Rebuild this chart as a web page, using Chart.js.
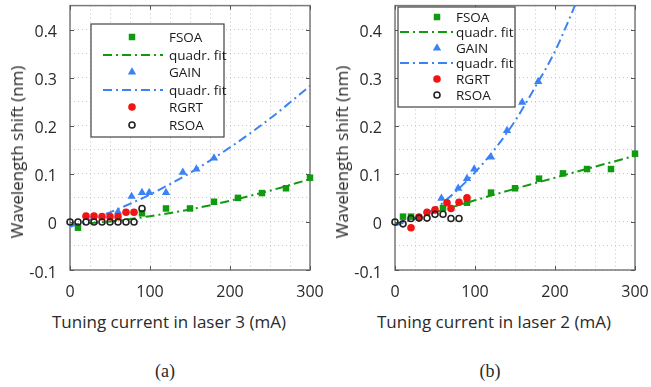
<!DOCTYPE html>
<html>
<head>
<meta charset="utf-8">
<script src="https://cdn.jsdelivr.net/npm/chart.js@4.4.1/dist/chart.umd.min.js"></script>
<style>
  body { margin: 0; background: #fff; width: 651px; height: 387px; position: relative; overflow: hidden; font-family: "Open Sans", sans-serif; color: #2a2a2a; }
  .box { position: absolute; top: 0; width: 325px; height: 300px; }
  .xt { position: absolute; top: 311px; font-size: 17px; line-height: 22px; white-space: nowrap; transform: translateX(-50%); }
  .yt { position: absolute; top: 152px; font-size: 17px; line-height: 22px; white-space: nowrap; transform: translate(-50%, -50%) rotate(-90deg); }
  .cap { position: absolute; top: 360px; font-family: "Liberation Serif", serif; font-size: 18px; line-height: 22px; transform: translateX(-50%); }
</style>
</head>
<body>
<div class="box" style="left:0"><canvas id="chartA" width="325" height="300"></canvas></div>
<div class="box" style="left:325px"><canvas id="chartB" width="325" height="300"></canvas></div>
<div class="yt" style="left:17px">Wavelength shift (nm)</div>
<div class="yt" style="left:342px">Wavelength shift (nm)</div>
<div class="xt" style="left:169px">Tuning current in laser 3 (mA)</div>
<div class="xt" style="left:494px">Tuning current in laser 2 (mA)</div>
<div class="cap" style="left:165px">(a)</div>
<div class="cap" style="left:490px">(b)</div>
<script>
// ---- data (a): laser 3 ----
var fsoaA_x = [10, 90, 120, 150, 180, 210, 240, 270, 300]
var fsoaA_y = [-0.012, 0.018, 0.028, 0.028, 0.042, 0.05, 0.06, 0.07, 0.092]
var fsoaFitA_x = [0, 50, 100, 150, 200, 250, 300]
var fsoaFitA_y = [-0.006, 0.001, 0.012, 0.026, 0.044, 0.065, 0.089]
var gainA_x = [60, 77, 90, 99, 120, 141, 158, 180]
var gainA_y = [0.021, 0.053, 0.061, 0.061, 0.061, 0.103, 0.11, 0.133]
var gainFitA_x = [0, 50, 100, 150, 200, 250, 300]
var gainFitA_y = [-0.01, 0.02, 0.057, 0.102, 0.155, 0.215, 0.283]
var rgrtA_x = [20, 30, 40, 50, 60, 70, 80]
var rgrtA_y = [0.012, 0.012, 0.011, 0.011, 0.011, 0.02, 0.02]
var rsoaA_x = [0, 10, 20, 30, 40, 50, 60, 70, 80, 90]
var rsoaA_y = [0, 0, 0, 0, 0, 0, 0, 0, 0, 0.028]

// ---- data (b): laser 2 ----
var fsoaB_x = [10, 20, 60, 90, 120, 150, 180, 210, 240, 270, 300]
var fsoaB_y = [0.011, 0.011, 0.029, 0.04, 0.061, 0.07, 0.09, 0.101, 0.11, 0.11, 0.142]
var fsoaFitB_x = [0, 50, 100, 150, 200, 250, 300]
var fsoaFitB_y = [-0.005, 0.02, 0.045, 0.069, 0.092, 0.115, 0.1375]
var gainB_x = [58, 79, 90, 99, 120, 140, 159, 179]
var gainB_y = [0.049, 0.07, 0.09, 0.11, 0.135, 0.19, 0.249, 0.292]
var gainFitB_x = [0, 25, 50, 75, 100, 125, 150, 175, 200, 230]
var gainFitB_y = [-0.007, 0.007, 0.028, 0.062, 0.103, 0.152, 0.21, 0.28, 0.355, 0.47]
var rgrtB_x = [20, 30, 40, 50, 65, 70, 80, 90]
var rgrtB_y = [-0.012, 0.01, 0.02, 0.025, 0.04, 0.028, 0.041, 0.05]
var rsoaB_x = [0, 10, 20, 30, 40, 50, 60, 70, 80]
var rsoaB_y = [0, -0.004, 0.007, 0.008, 0.008, 0.016, 0.016, 0.007, 0.007]

// axes
var xMin = 0, xMax = 300, xGridStep = 25, xLabelStep = 100
var yMin = -0.1, yMax = 0.45, yGridStep = 0.05, yLabelStep = 0.1
var legendLabels = ['FSOA', 'quadr. fit', 'GAIN', 'quadr. fit', 'RGRT', 'RSOA']

var GREEN = '#109a10', BLUE = '#3a82f5', RED = '#f01414', BLACK = '#222'
var FONT = '"Open Sans", sans-serif'

function pts(xs, ys) {
  return xs.map(function (x, i) { return { x: x, y: ys[i] } })
}

function buildSets(d) {
  return [
    { label: legendLabels[0], data: pts(d.fsoa[0], d.fsoa[1]), showLine: false, pointStyle: 'rect', pointRadius: 4.6, backgroundColor: GREEN, borderColor: GREEN, borderWidth: 0, clip: false, order: 2 },
    { label: legendLabels[1], data: pts(d.fsoaFit[0], d.fsoaFit[1]), borderColor: GREEN, borderWidth: 2, borderDash: [9, 4, 2, 4], pointRadius: 0, cubicInterpolationMode: 'monotone', clip: 0, order: 6 },
    { label: legendLabels[2], data: pts(d.gain[0], d.gain[1]), showLine: false, pointStyle: 'triangle', pointRadius: 4.8, backgroundColor: BLUE, borderColor: BLUE, borderWidth: 0, clip: false, order: 3 },
    { label: legendLabels[3], data: pts(d.gainFit[0], d.gainFit[1]), borderColor: BLUE, borderWidth: 2, borderDash: [9, 4, 2, 4], pointRadius: 0, cubicInterpolationMode: 'monotone', clip: 0, order: 5 },
    { label: legendLabels[4], data: pts(d.rgrt[0], d.rgrt[1]), showLine: false, pointStyle: 'circle', pointRadius: 3.8, backgroundColor: RED, borderColor: RED, borderWidth: 0, clip: false, order: 1 },
    { label: legendLabels[5], data: pts(d.rsoa[0], d.rsoa[1]), showLine: false, pointStyle: 'circle', pointRadius: 3, backgroundColor: 'rgba(0,0,0,0)', borderColor: BLACK, borderWidth: 1.6, clip: false, order: 0 }
  ]
}

// box frame with inward ticks (MATLAB style)
var framePlugin = {
  id: 'frame',
  beforeDatasetsDraw: function (chart) {
    var a = chart.chartArea, ctx = chart.ctx
    var xs = chart.scales.x, ys = chart.scales.y
    ctx.save()
    ctx.strokeStyle = '#7a7a7a'
    ctx.lineWidth = 1.5
    ctx.strokeRect(a.left, a.top, a.right - a.left, a.bottom - a.top)
    ctx.lineWidth = 1
    ctx.strokeStyle = '#555'
    ctx.beginPath()
    for (var v = xMin; v <= xMax; v += xLabelStep) {
      var px = Math.round(xs.getPixelForValue(v)) + 0.5
      ctx.moveTo(px, a.bottom); ctx.lineTo(px, a.bottom - 4)
      ctx.moveTo(px, a.top); ctx.lineTo(px, a.top + 4)
    }
    for (var k = -1; k <= 4; k++) {
      var py = Math.round(ys.getPixelForValue(k * yLabelStep)) + 0.5
      ctx.moveTo(a.left, py); ctx.lineTo(a.left + 4, py)
      ctx.moveTo(a.right, py); ctx.lineTo(a.right - 4, py)
    }
    ctx.stroke()
    ctx.restore()
  }
}

// boxed legend drawn inside the plot
var boxLegend = {
  id: 'boxLegend',
  afterDatasetsDraw: function (chart, args, o) {
    var ctx = chart.ctx
    ctx.save()
    ctx.fillStyle = '#fff'
    ctx.fillRect(o.x, o.y, o.w, o.h)
    ctx.strokeStyle = '#444'
    ctx.lineWidth = 1.2
    ctx.strokeRect(o.x, o.y, o.w, o.h)
    ctx.font = o.size + 'px ' + FONT
    ctx.textBaseline = 'middle'
    chart.data.datasets.forEach(function (ds, i) {
      var cy = o.rows[i]
      if (ds.showLine === false) {
        ctx.fillStyle = ds.backgroundColor
        ctx.strokeStyle = ds.borderColor
        ctx.lineWidth = ds.borderWidth
        ctx.beginPath()
        if (ds.pointStyle === 'circle') ctx.arc(o.mx, cy, ds.pointRadius, 0, Math.PI * 2)
        else if (ds.pointStyle === 'rect') { var s = ds.pointRadius * Math.SQRT1_2; ctx.rect(o.mx - s, cy - s, 2 * s, 2 * s) }
        else { var r = ds.pointRadius; ctx.moveTo(o.mx, cy - r); ctx.lineTo(o.mx + r * 0.866, cy + r / 2); ctx.lineTo(o.mx - r * 0.866, cy + r / 2); ctx.closePath() }
        ctx.fill()
        if (ds.borderWidth) ctx.stroke()
      } else {
        ctx.strokeStyle = ds.borderColor
        ctx.lineWidth = ds.borderWidth
        ctx.setLineDash(ds.borderDash)
        ctx.beginPath()
        ctx.moveTo(o.lx1, cy); ctx.lineTo(o.lx2, cy)
        ctx.stroke()
        ctx.setLineDash([])
      }
      ctx.fillStyle = '#1a1a1a'
      ctx.fillText(ds.label, o.tx, cy + 1)
    })
    ctx.restore()
  }
}

function isLabel(v, step) {
  var q = v / step
  return Math.abs(q - Math.round(q)) < 1e-6
}

function makeChart(id, sets, legendOpts) {
  return new Chart(document.getElementById(id), {
    type: 'line',
    data: { datasets: sets },
    options: {
      responsive: false,
      animation: false,
      layout: { padding: { left: 0, right: 15, top: 5, bottom: 0 } },
      plugins: { legend: { display: false }, tooltip: { enabled: false }, boxLegend: legendOpts },
      scales: {
        x: {
          type: 'linear', min: xMin, max: xMax,
          afterFit: function (s) { s.height = 30; s.paddingLeft = 0; s.paddingRight = 0 },
          ticks: {
            stepSize: xGridStep, autoSkip: false, maxRotation: 0, padding: 13, color: '#2a2a2a',
            font: { family: FONT, size: 16 },
            callback: function (v) { return isLabel(v, xLabelStep) ? String(v) : '' }
          },
          grid: { color: '#c4c4c4', drawTicks: false },
          border: { display: false, dash: [1, 3] }
        },
        y: {
          type: 'linear', min: yMin, max: yMax,
          afterFit: function (s) { s.width = 70; s.paddingTop = 0; s.paddingBottom = 0 },
          ticks: {
            stepSize: yGridStep, autoSkip: false, padding: 13, labelOffset: 3, color: '#2a2a2a',
            font: { family: FONT, size: 16 },
            callback: function (v) {
              if (!isLabel(v, yLabelStep)) return ''
              return Math.abs(v) < 1e-9 ? '0' : v.toFixed(1)
            }
          },
          grid: { color: '#c4c4c4', drawTicks: false },
          border: { display: false, dash: [1, 3] }
        }
      }
    },
    plugins: [framePlugin, boxLegend]
  })
}

makeChart('chartA', buildSets({
  fsoa: [fsoaA_x, fsoaA_y], fsoaFit: [fsoaFitA_x, fsoaFitA_y],
  gain: [gainA_x, gainA_y], gainFit: [gainFitA_x, gainFitA_y],
  rgrt: [rgrtA_x, rgrtA_y], rsoa: [rsoaA_x, rsoaA_y]
}), { x: 91, y: 24, w: 133, h: 113, rows: [37, 55, 72, 90, 107, 125], mx: 132, lx1: 103, lx2: 163, tx: 169, size: 13.5 })

makeChart('chartB', buildSets({
  fsoa: [fsoaB_x, fsoaB_y], fsoaFit: [fsoaFitB_x, fsoaFitB_y],
  gain: [gainB_x, gainB_y], gainFit: [gainFitB_x, gainFitB_y],
  rgrt: [rgrtB_x, rgrtB_y], rsoa: [rsoaB_x, rsoaB_y]
}), { x: 73, y: 7, w: 117, h: 100, rows: [17, 32, 48, 63, 79, 95], mx: 112, lx1: 75, lx2: 128, tx: 131, size: 13.5 })
</script>
</body>
</html>
